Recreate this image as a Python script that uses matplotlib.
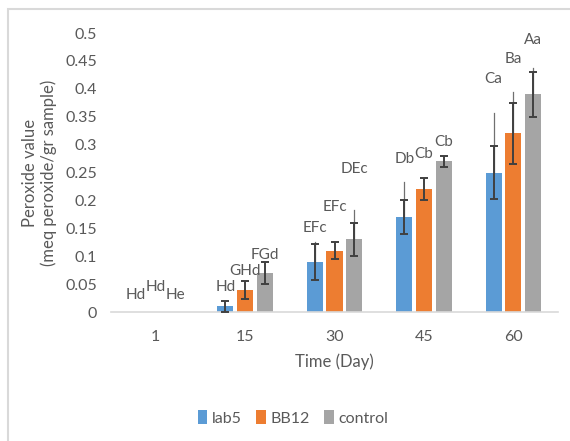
import numpy as np
import matplotlib
matplotlib.use("Agg")
import matplotlib.pyplot as plt
from matplotlib.patches import Rectangle

# --- données ---
jours = ["1", "15", "30", "45", "60"]
series = ["lab5", "BB12", "control"]

lab5 = [0.0, 0.01, 0.09, 0.17, 0.25]
bb12 = [0.0, 0.04, 0.11, 0.22, 0.32]
control = [0.0, 0.07, 0.13, 0.27, 0.39]

# écarts (barres d'erreur foncées, symétriques)
err_lab5 = [0.0, 0.01, 0.032, 0.03, 0.048]
err_bb12 = [0.0, 0.016, 0.015, 0.02, 0.055]
err_control = [0.0, 0.02, 0.03, 0.01, 0.04]

# second trait d'erreur (fin, vers le haut seulement)
haut_lab5 = [np.nan, np.nan, 0.126, 0.233, 0.357]
haut_bb12 = [np.nan, np.nan, np.nan, np.nan, 0.394]
haut_control = [np.nan, np.nan, 0.183, np.nan, 0.437]

# lettres de significativité
lettres_lab5 = ["Hd", "Hd", "EFc", "Db", "Ca"]
lettres_bb12 = ["Hd", "GHd", "EFc", "Cb", "Ba"]
lettres_control = ["He", "FGd", "DEc", "Cb", "Aa"]
y_lab5 = [0.030, 0.045, 0.151, 0.274, 0.417]
y_bb12 = [0.045, 0.073, 0.188, 0.283, 0.453]
y_control = [0.030, 0.102, 0.256, 0.305, 0.487]

couleurs = ["#5B9BD5", "#ED7D31", "#A5A5A5"]
gris_texte = "#595959"

plt.rcParams['font.family'] = ['Lato', 'DejaVu Sans']

fig = plt.figure(figsize=(5.70, 4.41), dpi=100)
ax = fig.add_axes([0.1947, 0.2925, 0.7843, 0.6325])

# cadre gris autour du graphique
fig.patches.append(Rectangle((7.5 / 570, -0.05), 2, 1 - 8.5 / 441 + 0.05,
                             transform=fig.transFigure, fill=False,
                             edgecolor="#D9D9D9", linewidth=1.5))

x = np.arange(len(jours))
largeur = 0.18
decal = 0.22

donnees = [
    (lab5, err_lab5, haut_lab5, lettres_lab5, y_lab5),
    (bb12, err_bb12, haut_bb12, lettres_bb12, y_bb12),
    (control, err_control, haut_control, lettres_control, y_control),
]

for i, (vals, errs, hauts, lettres, ly) in enumerate(donnees):
    pos = x + (i - 1) * decal
    ax.bar(pos, vals, width=largeur, color=couleurs[i], label=series[i], zorder=2)
    # trait fin
    for p, v, h in zip(pos, vals, hauts):
        if not np.isnan(h):
            ax.plot([p, p], [v, h], color="#707070", linewidth=0.9, zorder=3)
    # barres d'erreur foncées
    e = np.array(errs)
    masque = e > 0
    ax.errorbar(pos[masque], np.array(vals)[masque], yerr=e[masque], fmt="none",
                ecolor="#404040", elinewidth=1.4, capsize=3, capthick=1.4, zorder=4)
    for p, t, yy in zip(pos, lettres, ly):
        ax.text(p, yy, t, ha="center", va="center", fontsize=11, color=gris_texte)

ax.set_xlim(-0.5, 4.5)
ax.set_ylim(0, 0.5)
ax.set_yticks(np.arange(0, 0.501, 0.05))
ax.set_yticklabels(["0", "0.05", "0.1", "0.15", "0.2", "0.25", "0.3", "0.35",
                    "0.4", "0.45", "0.5"])
ax.set_xticks(x)
ax.set_xticklabels(jours)
ax.tick_params(axis="both", length=0, labelsize=11.5, colors=gris_texte)
ax.tick_params(axis="x", pad=13)
ax.tick_params(axis="y", pad=10)

for s in ["top", "right", "left"]:
    ax.spines[s].set_visible(False)
ax.spines["bottom"].set_color("#D9D9D9")
ax.spines["bottom"].set_linewidth(1.2)

ax.set_xlabel("Time (Day)", fontsize=12, color=gris_texte, labelpad=7)
ax.set_ylabel("Peroxide value\n(meq peroxide/gr sample)", fontsize=12,
              color=gris_texte, labelpad=6)

leg = fig.legend(loc="center", bbox_to_anchor=(293 / 570, 1 - 418 / 441), ncol=3,
                 frameon=False, fontsize=11.5, handlelength=0.6, handleheight=0.9,
                 handletextpad=0.3, columnspacing=0.9)
for t in leg.get_texts():
    t.set_color(gris_texte)

fig.savefig("out.png", dpi=100, facecolor="white")
